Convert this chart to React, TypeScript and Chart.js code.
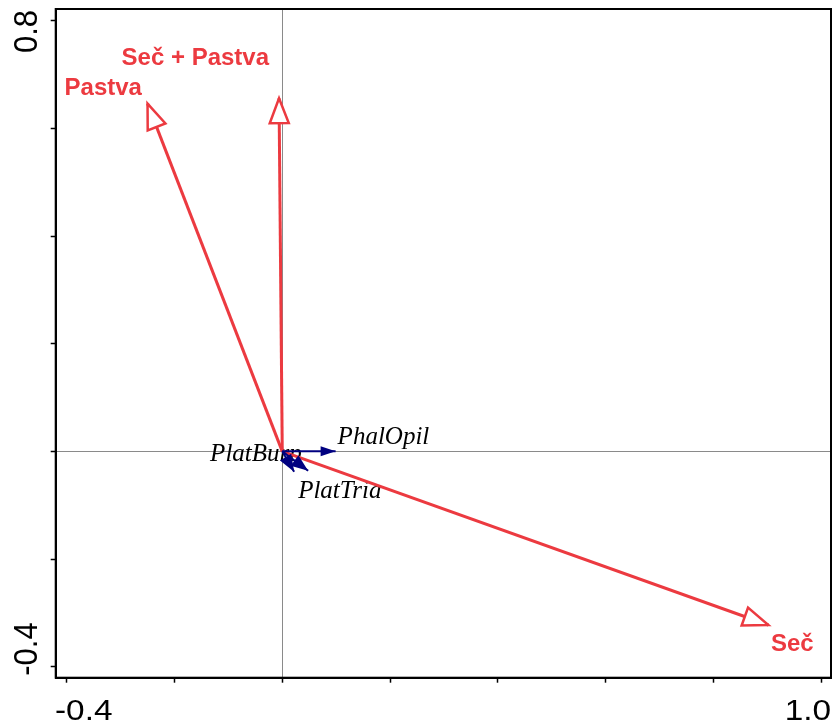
import React, { useEffect, useRef } from 'react';
import { Chart, registerables } from 'chart.js';

Chart.register(...registerables);

// Environmental variables (red arrows)
const envNames = ['Pastva', 'Seč + Pastva', 'Seč'];
const envX = [-0.25, -0.006, 0.902];
const envY = [0.646, 0.656, -0.3225];

// Species (blue arrows)
const speciesNames = ['PhalOpil', 'PlatBurp', 'PlatTria'];
const speciesX = [0.099, 0.022, 0.048];
const speciesY = [0.0, -0.038, -0.036];

// Axes
const xMin = -0.4204;
const xMax = 1.0182;
const yMin = -0.4204;
const yMax = 0.8217;
const xTickValues = [-0.4, -0.2, 0, 0.2, 0.4, 0.6, 0.8, 1.0];
const yTickValues = [-0.4, -0.2, 0, 0.2, 0.4, 0.6, 0.8];
const xLabelValues = [-0.4, 1.0];
const xTickLabels = ['-0.4', '1.0'];
const yLabelValues = [-0.4, 0.8];
const yTickLabels = ['-0.4', '0.8'];

const RED = 'rgb(236,58,64)';
const NAVY = 'rgb(0,0,128)';

// label placement (pixel offsets from arrow tips)
const labelStyle: Record<string, { dx: number; dy: number; align: CanvasTextAlign }> = {
  'Pastva': { dx: -5.6, dy: -8.4, align: 'right' },
  'Seč + Pastva': { dx: -10, dy: -33.7, align: 'right' },
  'Seč': { dx: 2.5, dy: 26.4, align: 'left' },
  'PhalOpil': { dx: 2, dy: -7.7, align: 'left' },
  'PlatBurp': { dx: -84, dy: -11, align: 'left' },
  'PlatTria': { dx: -10, dy: 27.5, align: 'left' },
};

function drawHead(ctx: CanvasRenderingContext2D, x0: number, y0: number, x1: number, y1: number,
  len: number, hw: number, fill: string, stroke: string | null, lw: number) {
  const dx = x1 - x0, dy = y1 - y0;
  const L = Math.hypot(dx, dy) || 1;
  const ux = dx / L, uy = dy / L;
  const bx = x1 - ux * len, by = y1 - uy * len;
  const px = -uy, py = ux;
  ctx.beginPath();
  ctx.moveTo(x1, y1);
  ctx.lineTo(bx + px * hw, by + py * hw);
  ctx.lineTo(bx - px * hw, by - py * hw);
  ctx.closePath();
  ctx.fillStyle = fill;
  ctx.fill();
  if (stroke) {
    ctx.lineWidth = lw;
    ctx.strokeStyle = stroke;
    ctx.lineJoin = 'miter';
    ctx.stroke();
  }
}

const nSpecies = speciesNames.length;

const biplotPlugin = {
  id: 'biplot',
  beforeDatasetsDraw(chart: any) {
    const ctx: CanvasRenderingContext2D = chart.ctx;
    ctx.save();
    ctx.font = 'italic 25px "Liberation Serif", "DejaVu Serif", serif';
    ctx.fillStyle = '#000';
    ctx.textBaseline = 'alphabetic';
    speciesNames.forEach((n, i) => {
      const p = chart.getDatasetMeta(i).data[1];
      const st = labelStyle[n];
      ctx.textAlign = st.align;
      ctx.fillText(n, p.x + st.dx, p.y + st.dy);
    });
    ctx.font = 'bold 24px "Liberation Sans", Arial, sans-serif';
    ctx.fillStyle = RED;
    envNames.forEach((n, i) => {
      const p = chart.getDatasetMeta(nSpecies + i).data[1];
      const st = labelStyle[n];
      ctx.textAlign = st.align;
      ctx.fillText(n, p.x + st.dx, p.y + st.dy);
    });
    ctx.restore();
  },
  afterDatasetsDraw(chart: any) {
    const ctx: CanvasRenderingContext2D = chart.ctx;
    ctx.save();
    envNames.forEach((_, i) => {
      const meta = chart.getDatasetMeta(nSpecies + i);
      const a = meta.data[0], b = meta.data[1];
      drawHead(ctx, a.x, a.y, b.x, b.y, 25, 9.5, '#fff', RED, 2.5);
    });
    speciesNames.forEach((_, i) => {
      const meta = chart.getDatasetMeta(i);
      const a = meta.data[0], b = meta.data[1];
      const small = i > 0;
      drawHead(ctx, a.x, a.y, b.x, b.y, small ? 17 : 15, small ? 6.5 : 5, NAVY, null, 0);
    });
    ctx.restore();
  },
  afterDraw(chart: any) {
    const ctx: CanvasRenderingContext2D = chart.ctx;
    const { left, right, top, bottom } = chart.chartArea;
    ctx.save();
    ctx.strokeStyle = '#000';
    ctx.lineWidth = 2;
    ctx.strokeRect(left, top, right - left, bottom - top);

    const xs = chart.scales.x;
    const ys = chart.scales.y;
    ctx.fillStyle = '#000';
    ctx.textBaseline = 'alphabetic';
    ctx.font = '29px "Liberation Sans", Arial, sans-serif';
    xLabelValues.forEach((v, i) => {
      const px = xs.getPixelForValue(v);
      const first = i === 0;
      ctx.save();
      ctx.translate(first ? px - 11.7 : px + 9.8, bottom + 42.5);
      ctx.scale(1.15, 1);
      ctx.textAlign = first ? 'left' : 'right';
      ctx.fillText(xTickLabels[i], 0, 0);
      ctx.restore();
    });
    ctx.font = '31px "Liberation Sans", Arial, sans-serif';
    yLabelValues.forEach((v, i) => {
      const py = ys.getPixelForValue(v);
      const first = i === 0;
      ctx.save();
      ctx.translate(37, first ? py + 9 : py - 10.7);
      ctx.rotate(-Math.PI / 2);
      ctx.scale(1, 1.08);
      ctx.textAlign = first ? 'left' : 'right';
      ctx.fillText(yTickLabels[i], 0, 0);
      ctx.restore();
    });
    ctx.restore();
  },
};

const zeroGrid = (c: any) => (c.tick && Math.abs(c.tick.value) < 1e-9 ? '#8a8a8a' : 'rgba(0,0,0,0)');

export default function App() {
  const ref = useRef<HTMLCanvasElement>(null);
  useEffect(() => {
    const datasets: any[] = [
      ...speciesNames.map((n, i) => ({
        label: n,
        data: [{ x: 0, y: 0 }, { x: speciesX[i], y: speciesY[i] }],
        showLine: true,
        borderColor: NAVY,
        backgroundColor: NAVY,
        borderWidth: 2,
        pointRadius: 0,
      })),
      ...envNames.map((n, i) => ({
        label: n,
        data: [{ x: 0, y: 0 }, { x: envX[i], y: envY[i] }],
        showLine: true,
        borderColor: RED,
        backgroundColor: RED,
        borderWidth: 3,
        pointRadius: 0,
      })),
    ];
    const chart = new Chart(ref.current!, {
      type: 'scatter',
      data: { datasets },
      options: {
        animation: false,
        responsive: false,
        devicePixelRatio: 1,
        layout: { padding: { top: 9, right: 3, left: 0, bottom: 0 } },
        plugins: { legend: { display: false }, tooltip: { enabled: false } },
        events: [],
        scales: {
          x: {
            type: 'linear',
            position: 'bottom',
            min: xMin,
            max: xMax,
            afterBuildTicks: (s: any) => { s.ticks = xTickValues.map((v) => ({ value: v })); },
            afterFit: (s: any) => { s.height = 48.3; },
            ticks: { display: false },
            grid: { color: zeroGrid, lineWidth: 1, tickColor: '#000', tickLength: 5, tickWidth: 1.5, drawTicks: true, drawOnChartArea: true },
            border: { display: true, color: '#000', width: 2 },
          },
          y: {
            type: 'linear',
            position: 'left',
            min: yMin,
            max: yMax,
            afterBuildTicks: (s: any) => { s.ticks = yTickValues.map((v) => ({ value: v })); },
            afterFit: (s: any) => { s.width = 55.7; },
            ticks: { display: false },
            grid: { color: zeroGrid, lineWidth: 1, tickColor: '#000', tickLength: 5, tickWidth: 1.5, drawTicks: true, drawOnChartArea: true },
            border: { display: true, color: '#000', width: 2 },
          },
        },
      } as any,
      plugins: [biplotPlugin as any],
    });
    return () => chart.destroy();
  }, []);
  return (
    <div style={{ position: 'absolute', left: 0, top: 0, width: 834, height: 726, background: '#fff' }}>
      <canvas ref={ref} width={834} height={726} style={{ display: 'block', width: 834, height: 726 }} />
    </div>
  );
}
